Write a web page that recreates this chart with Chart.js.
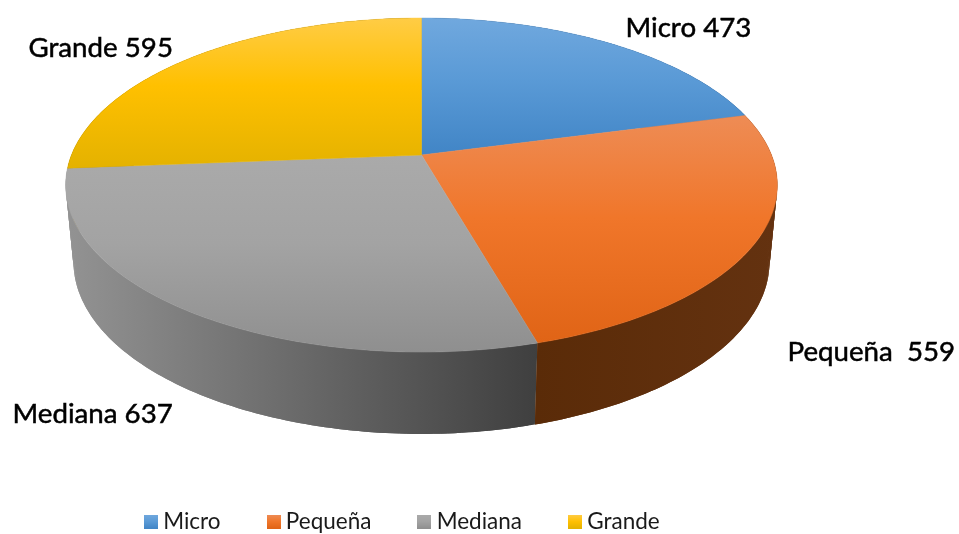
<!DOCTYPE html>
<html lang="es">
<head>
<meta charset="utf-8">
<title>Empresas por tamaño</title>
<script src="https://cdn.jsdelivr.net/npm/chart.js@4/dist/chart.umd.min.js"></script>
<style>
    html, body { margin: 0; padding: 0; background: #fff; }
    #wrap { position: relative; width: 959px; height: 534px; }
</style>
</head>
<body>
<div id="wrap"><canvas id="pie3d" width="959" height="534"></canvas></div>
<script>
const categorias = ['Micro', 'Pequeña', 'Mediana', 'Grande'];
const valores = [473, 559, 637, 595];
const separadores = [' ', '  ', ' ', ' '];

// colores: base, degradado de la cara superior y de la pared lateral
const colorBase = ['#5b9bd5', '#ed7d31', '#a5a5a5', '#ffc000'];
const caraColores = [
    ['#70a8de', '#5a9ad6', '#4185c6'],
    ['#ee8c55', '#f0762a', '#e06416'],
    ['#aaaaaa', '#a3a3a3', '#8f8f8f'],
    ['#ffcc45', '#ffc000', '#e4b200']
];
const paredColores = [
    ['#28507a', '#28507a'],
    ['#5a2b08', '#643210'],
    ['#939393', '#3f3f3f'],
    ['#8a6c00', '#8a6c00']
];

// posiciones de las etiquetas: x, línea base
const etiquetaPos = [[625.5, 37], [787.5, 361], [12.5, 423], [28.5, 57]];

// proyección del círculo en perspectiva (superficie y base del cilindro)
const CX = 421.5;
const K = 0.18;
const cara = { a: 350, b: 161.6, y0: 155 };
const base = { a: 342.3, b: 166.4, y0: 231 };

function proyectar(theta, p) {
    const u = Math.sin(theta), v = -Math.cos(theta);
    const d = 1 - K * v;
    return [CX + p.a * u / d, p.y0 + p.b * v / d];
}

function puntosBorde(t0, t1, p) {
    const n = Math.max(8, Math.ceil((t1 - t0) * 60));
    const pts = [];
    for (let i = 0; i <= n; i++) pts.push(proyectar(t0 + (t1 - t0) * i / n, p));
    return pts;
}

function trazar(ctx, pts) {
    pts.forEach(q => ctx.lineTo(q[0], q[1]));
}

// Dibuja las porciones a partir de los ángulos que calcula Chart.js
const pastel3d = {
    id: 'pastel3d',
    beforeDatasetDraw(chart) {
        const ctx = chart.ctx;
        const arcos = chart.getDatasetMeta(0).data;
        const angulos = arcos.map(a => [a.startAngle + Math.PI / 2, a.endAngle + Math.PI / 2]);

        // paredes: primero las de atrás, en tramos solapados porque los bordes se cruzan
        [3, 0, 2, 1].forEach(i => {
            const [t0, t1] = angulos[i];
            const arriba = puntosBorde(t0, t1, cara);
            const abajo = puntosBorde(t0, t1, base);
            const xs = arriba.concat(abajo).map(q => q[0]);
            const g = ctx.createLinearGradient(Math.min(...xs), 0, Math.max(...xs), 0);
            const c = paredColores[i];
            g.addColorStop(0, c[0]);
            g.addColorStop(1, c[1]);
            ctx.fillStyle = g;
            const ultimo = arriba.length - 1;
            for (let j = 0; j < ultimo; j++) {
                const k = Math.min(j + 2, ultimo);
                ctx.beginPath();
                trazar(ctx, [arriba[j], arriba[j + 1], arriba[k], abajo[k], abajo[j + 1], abajo[j]]);
                ctx.closePath();
                ctx.fill();
            }
        });

        // cara superior
        angulos.forEach(([t0, t1], i) => {
            const borde = puntosBorde(t0, t1, cara);
            const centro = [CX, cara.y0];
            const ys = borde.map(q => q[1]).concat(centro[1]);
            const g = ctx.createLinearGradient(0, Math.min(...ys), 0, Math.max(...ys));
            const c = caraColores[i];
            g.addColorStop(0, c[0]);
            g.addColorStop(0.45, c[1]);
            g.addColorStop(1, c[2]);
            ctx.beginPath();
            ctx.moveTo(centro[0], centro[1]);
            trazar(ctx, borde);
            ctx.closePath();
            ctx.fillStyle = g;
            ctx.fill();
            ctx.strokeStyle = g;
            ctx.lineWidth = 0.5;
            ctx.stroke();
        });
        return false;
    },
    afterDatasetsDraw(chart) {
        const ctx = chart.ctx;
        ctx.save();
        ctx.fillStyle = '#000';
        ctx.strokeStyle = '#000';
        ctx.lineWidth = 0.5;
        ctx.font = '27.7px Lato';
        ctx.textBaseline = 'alphabetic';
        categorias.forEach((nombre, i) => {
            const [x, y] = etiquetaPos[i];
            const txt = nombre + separadores[i] + valores[i];
            ctx.fillText(txt, x, y);
            ctx.strokeText(txt, x, y);
        });
        ctx.restore();
    }
};

// cuadrito de la leyenda con el mismo degradado que la cara
function cuadroLeyenda(i) {
    const c = document.createElement('canvas');
    c.width = 14;
    c.height = 14;
    const g2 = c.getContext('2d');
    const g = g2.createLinearGradient(0, 0, 0, 14);
    g.addColorStop(0, caraColores[i][0]);
    g.addColorStop(0.5, caraColores[i][1]);
    g.addColorStop(1, caraColores[i][2]);
    g2.fillStyle = g;
    g2.fillRect(0, 0, 14, 14);
    return c;
}

new Chart(document.getElementById('pie3d'), {
    type: 'pie',
    data: {
        labels: categorias,
        datasets: [{
            data: valores,
            backgroundColor: colorBase,
            borderWidth: 0
        }]
    },
    options: {
        responsive: false,
        animation: false,
        layout: { padding: { left: 98, bottom: -9 } },
        plugins: {
            tooltip: { enabled: false },
            legend: {
                position: 'bottom',
                align: 'start',
                labels: {
                    color: '#1a1a1a',
                    font: { family: 'Lato', size: 22.5 },
                    usePointStyle: true,
                    pointStyleWidth: 2,
                    padding: 52,
                    generateLabels(chart) {
                        const items = Chart.overrides.pie.plugins.legend.labels.generateLabels(chart);
                        items.forEach((it, i) => { it.pointStyle = cuadroLeyenda(i); });
                        return items;
                    }
                }
            }
        }
    },
    plugins: [pastel3d]
});
</script>
</body>
</html>
